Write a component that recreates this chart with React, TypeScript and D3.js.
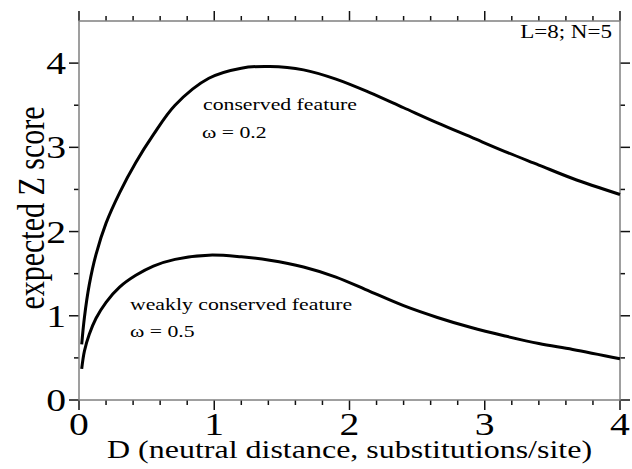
import React from 'react';
import * as d3 from 'd3';

// neutral distance D (substitutions/site)
const distances = [0.02, 0.04, 0.076, 0.126, 0.2, 0.3, 0.42, 0.55, 0.71, 0.96, 1.2, 1.41, 1.66, 1.9, 2.15, 2.4, 2.65, 2.9, 3.15, 3.4, 3.65, 4.0];
// expected Z score, omega = 0.2
const conserved = [0.66, 0.98, 1.37, 1.73, 2.1, 2.46, 2.82, 3.15, 3.5, 3.82, 3.94, 3.96, 3.92, 3.81, 3.65, 3.47, 3.29, 3.12, 2.95, 2.79, 2.63, 2.44];
// expected Z score, omega = 0.5
const weaklyConserved = [0.37, 0.58, 0.78, 0.97, 1.16, 1.34, 1.48, 1.59, 1.67, 1.72, 1.7, 1.66, 1.58, 1.46, 1.29, 1.12, 0.98, 0.86, 0.76, 0.67, 0.6, 0.49];

const xMajor = [0, 1, 2, 3, 4];
const yMajor = [0, 1, 2, 3, 4];

const W = 632;
const H = 469;
const margin = { top: 21, right: 12, bottom: 69, left: 79 };
const FONT = '"Liberation Serif", "Times New Roman", serif';
const SX = 1.28; // glyphs in the figure are a bit wide

const App: React.FC = () => {
  const x = d3.scaleLinear().domain([0, 4]).range([margin.left, W - margin.right]);
  const y = d3.scaleLinear().domain([0, 4.5]).range([H - margin.bottom, margin.top]);

  const xMinor = d3.range(0, 4.0001, 0.2).filter(v => Math.abs(v - Math.round(v)) > 1e-6);
  const yMinor = d3.range(0.5, 4.5, 1);

  const line = d3.line<number>()
    .x((_, i) => x(distances[i]))
    .y(d => y(d))
    .curve(d3.curveCatmullRom.alpha(0.5));

  const x0 = x(0), x1 = x(4), y0 = y(0), y1 = y(4.5);
  const tickCol = '#111';
  const axisCol = '#808080';

  const txt = (px: number, py: number, s: string, size: number, anchor = 'start', key?: string) => (
    <text key={key} transform={`translate(${px},${py}) scale(${SX},1)`} fontSize={size} textAnchor={anchor} fill="#000">{s}</text>
  );

  return (
    <div style={{ position: 'fixed', left: 0, top: 0 }}>
      <svg width={W} height={H} fontFamily={FONT} style={{ display: 'block', background: '#fff' }}>
        {/* ticks: all pointing outward */}
        <g stroke={tickCol} strokeWidth={1.5}>
          {xMajor.map(v => (
            <g key={'xm' + v}>
              <line x1={x(v)} x2={x(v)} y1={y0} y2={y0 + 10} />
              <line x1={x(v)} x2={x(v)} y1={y1} y2={y1 - 10} />
            </g>
          ))}
          {xMinor.map(v => (
            <g key={'xn' + v}>
              <line x1={x(v)} x2={x(v)} y1={y0} y2={y0 + 5} />
              <line x1={x(v)} x2={x(v)} y1={y1} y2={y1 - 5} />
            </g>
          ))}
          {yMajor.map(v => (
            <g key={'ym' + v}>
              <line x1={x0} x2={x0 - 10} y1={y(v)} y2={y(v)} />
              <line x1={x1} x2={x1 + 10} y1={y(v)} y2={y(v)} />
            </g>
          ))}
          {yMinor.map(v => (
            <g key={'yn' + v}>
              <line x1={x0} x2={x0 - 5} y1={y(v)} y2={y(v)} />
              <line x1={x1} x2={x1 + 5} y1={y(v)} y2={y(v)} />
            </g>
          ))}
        </g>
        <rect x={x0} y={y1} width={x1 - x0} height={y0 - y1} fill="none" stroke={axisCol} strokeWidth={1.5} />

        {/* tick labels */}
        {xMajor.map(v => txt(x(v), y0 + 35, String(v), 31, 'middle', 'xl' + v))}
        {yMajor.map(v => txt(x0 - 13, y(v) + 11, String(v), 31, 'end', 'yl' + v))}

        {/* axis titles */}
        {txt((x0 + x1) / 2, 458, 'D (neutral distance, substitutions/site)', 25, 'middle')}
        <text transform={`translate(44,208) scale(${SX},1) rotate(-90)`} fontSize={30} textAnchor="middle">expected Z score</text>

        {/* curves */}
        <path d={line(conserved) ?? ''} fill="none" stroke="#000" strokeWidth={3} />
        <path d={line(weaklyConserved) ?? ''} fill="none" stroke="#000" strokeWidth={3} />

        {/* annotations */}
        {txt(203, 110, 'conserved feature', 17)}
        {txt(202, 138, 'ω = 0.2', 17)}
        {txt(130, 310, 'weakly conserved feature', 17)}
        {txt(130, 337, 'ω = 0.5', 17)}
        {txt(612, 38, 'L=8; N=5', 18, 'end')}
      </svg>
    </div>
  );
};

export default App;
